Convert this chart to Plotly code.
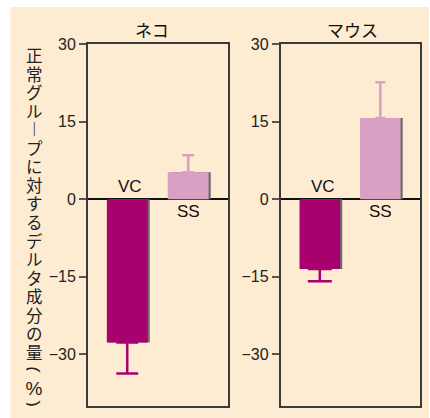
import plotly.graph_objects as go

# ---- data ----
categories = ["VC", "SS"]
panel_titles = ["ネコ", "マウス"]
cat_values = [-27.7, 5.2]
cat_err_down = [6.0, 0.0]
cat_err_up = [0.0, 3.3]
mouse_values = [-13.5, 15.7]
mouse_err_down = [2.4, 0.0]
mouse_err_up = [0.0, 6.9]
y_ticks = [-30, -15, 0, 15, 30]
y_title = "正常グループに対するデルタ成分の量"
y_unit = ["(", "%", ")"]

# ---- style ----
W, H = 430, 418
ML, MR, MT, MB = 88, 8, 44, 12
PW, PH = W - ML - MR, H - MT - MB
VC_COLOR = "#a8006e"
SS_COLOR = "#d8a1c3"
SHADOW = "#6a6a6a"
BEIGE = "#fdecd2"
BAR_W = 0.67
SH_OFF = 0.035
XRANGE = [-0.644, 1.656]

def px_x(px):
    return (px - ML) / PW

def px_y(py):
    return (MT + PH - py) / PH

fig = go.Figure()

panels = [
    (cat_values, cat_err_down, cat_err_up, "x", "y", [11, 6]),
    (mouse_values, mouse_err_down, mouse_err_up, "x2", "y2", [12, 5]),
]
for vals, edown, eup, xa, ya, caps in panels:
    colors = [VC_COLOR, SS_COLOR]
    for i, cat in enumerate(categories):
        fig.add_trace(go.Bar(
            x=[cat], y=[vals[i]], width=BAR_W, offset=-BAR_W / 2 + SH_OFF,
            marker=dict(color=SHADOW, line=dict(width=0)),
            xaxis=xa, yaxis=ya, showlegend=False, hoverinfo="skip"))
    for i, cat in enumerate(categories):
        fig.add_trace(go.Bar(
            x=[cat], y=[vals[i]], width=BAR_W, offset=-BAR_W / 2,
            marker=dict(color=colors[i], line=dict(width=0)),
            error_y=dict(type="data", symmetric=False, array=[eup[i]],
                         arrayminus=[edown[i]], color=colors[i],
                         thickness=2.5, width=caps[i]),
            xaxis=xa, yaxis=ya, showlegend=False))
    fig.add_annotation(x=categories[0], y=0, xref=xa, yref=ya, text=categories[0],
                       showarrow=False, yanchor="bottom", yshift=1, xshift=3,
                       font=dict(family="Liberation Sans", size=17, color="#111"))
    fig.add_annotation(x=categories[1], y=0, xref=xa, yref=ya, text=categories[1],
                       showarrow=False, yanchor="top", yshift=-1,
                       font=dict(family="Liberation Sans", size=17, color="#111"))

axis_common = dict(showline=True, mirror=True, linecolor="#3a3a3a", linewidth=2)
x_common = dict(axis_common, type="category", range=XRANGE, showticklabels=False,
                ticks="", showgrid=False, zeroline=False, fixedrange=True)
y_common = dict(axis_common, range=[-40, 30], tickvals=y_ticks, ticks="outside",
                ticklen=7, tickwidth=1.5, tickcolor="#555", showgrid=False,
                zeroline=True, zerolinecolor="#111", zerolinewidth=1.5,
                tickfont=dict(family="Liberation Sans", size=16, color="#222"))

fig.update_layout(
    width=W, height=H,
    margin=dict(l=ML, r=MR, t=MT, b=MB),
    paper_bgcolor="white", plot_bgcolor="white",
    barmode="overlay",
    xaxis=dict(x_common, domain=[0, 141 / PW]),
    xaxis2=dict(x_common, domain=[194 / PW, 1]),
    yaxis=dict(y_common, anchor="x"),
    yaxis2=dict(y_common, anchor="x2"),
)

fig.add_shape(type="rect", xref="paper", yref="paper",
              x0=px_x(10), x1=px_x(431), y0=px_y(419), y1=px_y(7),
              fillcolor=BEIGE, line=dict(width=0), layer="below")

for title, cx in zip(panel_titles, [152, 354]):
    fig.add_annotation(x=px_x(cx), y=px_y(30), xref="paper", yref="paper",
                       text=title, showarrow=False, xanchor="center", yanchor="middle",
                       font=dict(family="Noto Sans CJK JP", size=17, color="#111"))

# vertical (tategaki) y-axis title: one glyph per line
step = 18.56
vert = {"ー": "︱"}
lines = ['<span style="font-size:16.5px">%s</span>' % vert.get(c, c) for c in y_title]
fig.add_annotation(x=px_x(34), y=px_y(56.5 + (len(y_title) - 1) * step / 2),
                   xref="paper", yref="paper", text="<br>".join(lines),
                   showarrow=False, xanchor="center", yanchor="middle", align="center",
                   font=dict(family="Liberation Sans, Noto Sans CJK JP",
                             size=step / 1.3, color="#222"))
for ch, cy in zip(y_unit, [370, 387.5, 404]):
    fig.add_annotation(x=px_x(34), y=px_y(cy), xref="paper", yref="paper",
                       text=ch, showarrow=False, xanchor="center", yanchor="middle",
                       height=15 if ch != "%" else 18, width=22, borderpad=0,
                       textangle=0 if ch == "%" else 90,
                       font=dict(family="Liberation Sans", size=19, color="#222"))

fig.write_html("out.html")
